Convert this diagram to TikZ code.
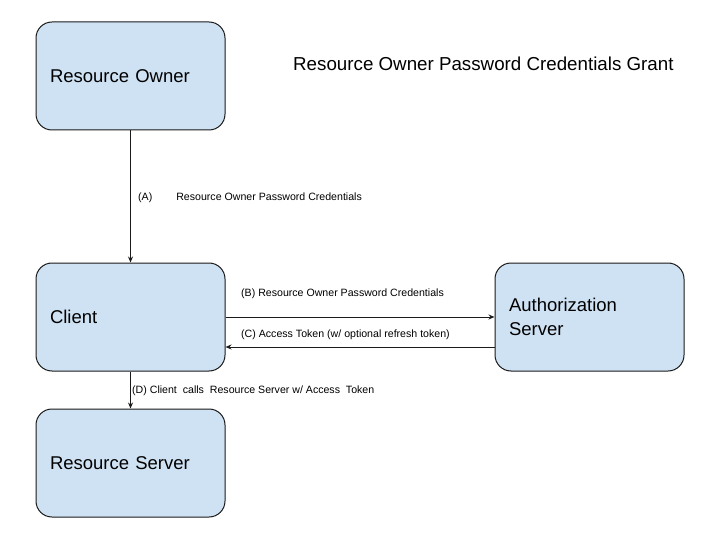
\documentclass[tikz,border=0pt]{standalone}
\usepackage{fontspec}
\setmainfont{Liberation Sans}
\usetikzlibrary{arrows.meta}
\definecolor{boxfill}{HTML}{CFE2F3}
\definecolor{edge}{HTML}{1A1A1A}
\tikzset{
  box/.style={draw=edge, line width=1pt, fill=boxfill, rounded corners=16pt,
    minimum width=189pt, minimum height=108pt, text width=161pt, inner xsep=14pt,
    align=left, font=\fontsize{18.5}{24}\selectfont},
  conn/.style={draw=edge, line width=1pt, -{Stealth[length=6pt,width=5pt]}},
  lbl/.style={anchor=base west, inner sep=0pt, font=\fontsize{10.6}{12}\selectfont},
}
\begin{document}
\begin{tikzpicture}[x=1pt,y=-1pt]
\useasboundingbox (0,0) rectangle (720,540);
\node[box] (ro) at (130.5,76) {Resource Owner};
\node[box] (cl) at (130.5,317) {Client};
\node[box] (rs) at (130.5,463) {Resource Server};
\node[box] (as) at (589.5,317) {Authorization\\Server};
\node[anchor=base west, inner sep=0pt, font=\fontsize{18.75}{22}\selectfont] (title) at (293,71) {Resource Owner Password Credentials Grant};
\draw[conn] (ro.south) -- (cl.north);
\draw[conn] (cl.east) -- (as.west);
\draw[conn] ([yshift=-30pt]as.west) -- ([yshift=-30pt]cl.east);
\draw[conn] (cl.south) -- (rs.north);
\node[lbl] (la) at (138,201) {(A)\hspace{24pt}Resource Owner Password Credentials};
\node[lbl] (lb) at (241,296) {(B) Resource Owner Password Credentials};
\node[lbl] (lc) at (241,337) {(C) Access Token (w/ optional refresh token)};
\node[lbl] (ld) at (132,393) {(D) Client\ \ calls\ \ Resource Server w/ Access\ \ Token};
\end{tikzpicture}
\end{document}
